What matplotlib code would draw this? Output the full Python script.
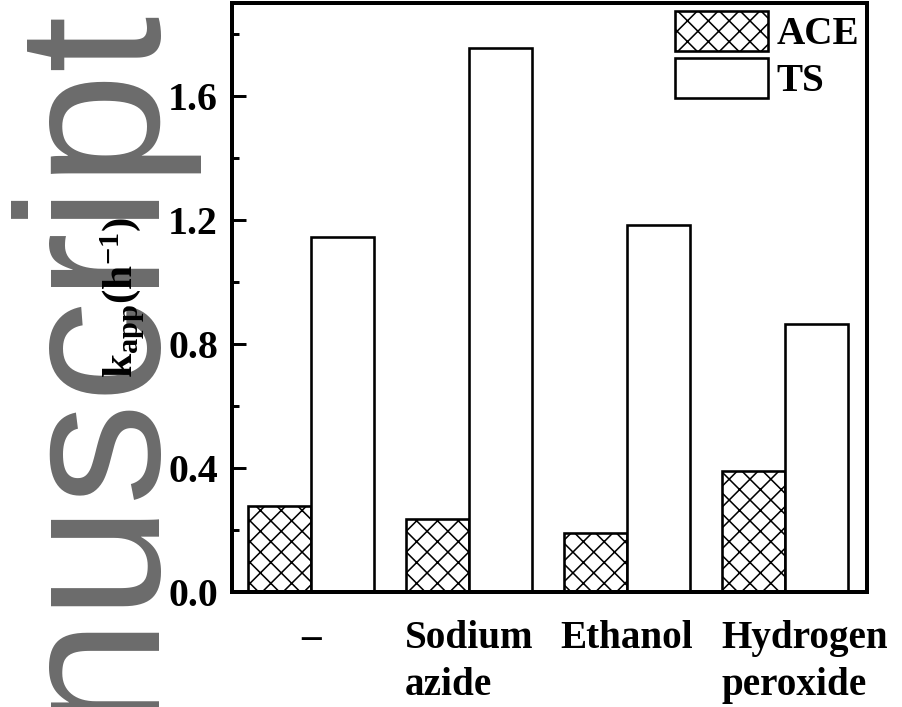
import numpy as np
import matplotlib
matplotlib.use("Agg")
import matplotlib.pyplot as plt
from matplotlib.transforms import ScaledTranslation

# 数据
categories = ["\u2013", "Sodium\nazide", "Ethanol", "Hydrogen\nperoxide"]
ace = [0.278, 0.237, 0.191, 0.390]
ts = [1.146, 1.755, 1.185, 0.866]
yticks = [0.0, 0.4, 0.8, 1.2, 1.6]

plt.rcParams['font.family'] = 'Liberation Serif'
plt.rcParams['font.weight'] = 'bold'
plt.rcParams['axes.labelweight'] = 'bold'
plt.rcParams['mathtext.fontset'] = 'custom'
plt.rcParams['mathtext.rm'] = 'Liberation Serif:bold'
plt.rcParams['mathtext.bf'] = 'Liberation Serif:bold'
plt.rcParams['mathtext.it'] = 'Liberation Serif:bold'
plt.rcParams['hatch.linewidth'] = 0.9

dpi = 125
fig = plt.figure(figsize=(902 / dpi, 707 / dpi), dpi=dpi)
ax = fig.add_axes([232 / 902, 1 - 592 / 707, (867 - 232) / 902, (592 - 3) / 707])

# 水印
fig.text(160 / 902, 1 - 15 / 707, "Accepted Manuscript", rotation=90,
         rotation_mode='anchor', ha='right', va='baseline',
         family='Liberation Sans', weight='normal', fontsize=118,
         color='#6b6b6b', zorder=-1)

x = np.arange(len(categories))
w = 0.4
ax.bar(x - w / 2, ace, w, color='white', edgecolor='black', hatch='xx',
       linewidth=1.5, label='ACE')
ax.bar(x + w / 2, ts, w, color='white', edgecolor='black',
       linewidth=1.5, label='TS')

ax.set_xlim(-0.5, 3.52)
ax.set_ylim(0, 1.9)
ax.set_yticks(yticks)
ax.set_yticklabels([f"{v:.1f}" for v in yticks])
ax.set_yticks(np.arange(0.2, 1.9, 0.4), minor=True)
ax.tick_params(axis='y', which='major', direction='in', length=8, width=1.7,
               labelsize=23, pad=8)
ax.tick_params(axis='y', which='minor', direction='in', length=4, width=1.7)
ax.set_xticks(x)
ax.set_xticklabels(categories, multialignment='left', linespacing=1.35)
ax.tick_params(axis='x', length=0, labelsize=22.5, pad=16)
for lab in ax.get_xticklabels()[3:]:
    lab.set_transform(lab.get_transform() + ScaledTranslation(20 / dpi, 0, fig.dpi_scale_trans))

for s in ax.spines.values():
    s.set_linewidth(2.3)

ax.set_ylabel(r'k$_{\rm app}$(h$^{-1}$)', fontsize=25, fontweight='bold', labelpad=12)

ax.legend(loc='upper right', bbox_to_anchor=(1, 1), frameon=False,
          fontsize=22.5, handlelength=2.36, handleheight=1.2,
          handletextpad=0.23, labelspacing=0.12, borderpad=0.08,
          borderaxespad=0.12)

fig.savefig("out.png", dpi=dpi)
